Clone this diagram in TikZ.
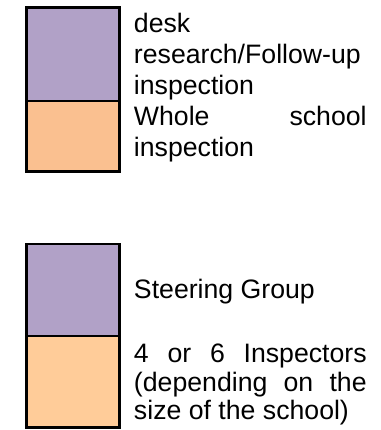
\documentclass[tikz,border=0pt]{standalone}
\usepackage{fontspec}
\setmainfont{Liberation Sans}
\definecolor{lav}{HTML}{B1A1C7}
\definecolor{peachA}{HTML}{FAC090}
\definecolor{peachB}{HTML}{FFCC99}
\begin{document}
\begin{tikzpicture}[x=0.75pt,y=-0.75pt,
  cell/.style={draw=black,line width=1.6pt},
  txt/.style={anchor=base west,inner sep=0pt,outer sep=0pt,font=\fontsize{20}{23}\selectfont}]
\useasboundingbox (0,0) rectangle (380,430);
% top legend
\fill[lav] (26.5,7.5) rectangle (119.5,101);
\fill[peachA] (26.5,101) rectangle (119.5,171.5);
\draw[cell] (26.5,7.5) rectangle (119.5,171.5);
\draw[cell] (26.5,101) -- (119.5,101);
\node[txt] (t1) at (134,32) {desk};
\node[txt] (t2) at (134,63) {research/Follow-up};
\node[txt] (t3) at (134,94) {inspection};
\node[txt] (t4) at (134,125) {\makebox[174.5pt][s]{Whole school}};
\node[txt] (t5) at (134,156) {inspection};
% bottom legend
\fill[lav] (26.5,244) rectangle (119.5,336);
\fill[peachB] (26.5,336) rectangle (119.5,427.5);
\draw[cell] (26.5,244) rectangle (119.5,427.5);
\draw[cell] (26.5,336) -- (119.5,336);
\node[txt] (b1) at (134,298) {Steering Group};
\node[txt] (b2) at (134,362.5) {\makebox[174.5pt][s]{4 or 6 Inspectors}};
\node[txt] (b3) at (134,391) {\makebox[174.5pt][s]{(depending on the}};
\node[txt] (b4) at (134,419.5) {size of the school)};
\end{tikzpicture}
\end{document}
